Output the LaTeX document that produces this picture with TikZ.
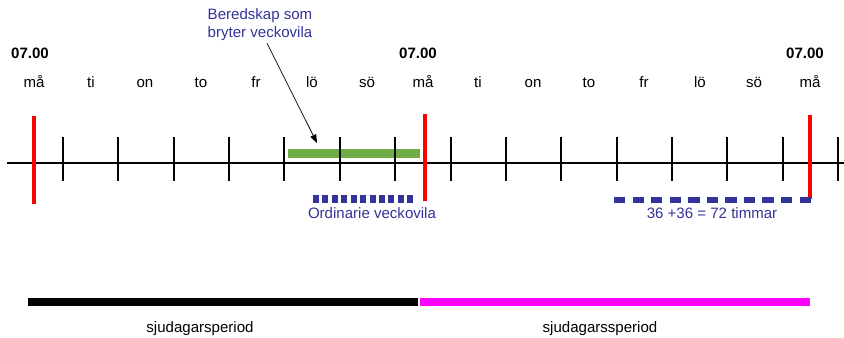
\documentclass[tikz,border=0pt]{standalone}
\usepackage{fontspec}
\setmainfont{Liberation Sans}
\usetikzlibrary{arrows.meta, positioning}
\definecolor{noteblue}{RGB}{51,51,153}
\definecolor{restgreen}{RGB}{112,173,71}
\definecolor{markred}{RGB}{255,0,0}
\definecolor{periodmagenta}{RGB}{255,0,255}

\begin{document}
\begin{tikzpicture}[x=0.025cm, y=-0.025cm, >=Triangle,
    day/.style={anchor=base, inner sep=0pt, font=\fontsize{10.7}{12.2}\selectfont},
    clock/.style={anchor=base, inner sep=0pt, font=\fontsize{10.7}{12.2}\selectfont\bfseries},
    note/.style={anchor=base, inner sep=0pt, align=center, text=noteblue, font=\fontsize{10.7}{12.2}\selectfont},
    daytick/.style={line width=0.9pt},
    boldtick/.style={line width=1.6pt},
    weekmark/.style={markred, line width=2.2pt},
    restbar/.style={noteblue, line width=5pt, dash pattern=on 4.3pt off 2.4pt},
    longbar/.style={noteblue, line width=4.3pt, dash pattern=on 8pt off 5.2pt},
    periodbar/.style={line width=5pt}]
    \useasboundingbox (0,0) rectangle (844,337);

    % Clock times and days
    \node[clock] (clock1) at (30,58) {07.00};
    \node[clock] (clock2) at (418,58) {07.00};
    \node[clock] (clock3) at (805,58) {07.00};
    \foreach \x/\d [count=\i] in {34/må, 91/ti, 145/on, 201/to, 256/fr, 312/lö, 367/sö, 423/må,
        478/ti, 533/on, 589/to, 644/fr, 700/lö, 754/sö, 810/må}
        \node[day] (day\i) at (\x,87) {\d};

    % Standby bar
    \draw[restgreen, line width=6.4pt] (288,153) -- (420,153);

    % Time axis
    \draw[line width=1pt] (7,163) -- (844,163);
    \foreach \x in {63,118,174,340,395,451,506,561,617,672,727}
        \draw[daytick] (\x,137) -- (\x,181);
    \foreach \x in {229,284,783,838}
        \draw[boldtick] (\x,137) -- (\x,181);

    % Week limits
    \draw[weekmark] (34,116) -- (34,204);
    \draw[weekmark] (425,114) -- (425,201);
    \draw[weekmark] (810,115) -- (810,199);

    % Rest periods
    \draw[restbar] (313,199) -- (414,199);
    \draw[longbar] (614,200) -- (813,200);
    \node[note] (ordinary) at (372,218) {Ordinarie veckovila};
    \node[note] (hours) at (712,218) {36 +36 = 72 timmar};

    % Note with arrow
    \node[note] (standbynote) at (260,37) {Beredskap som\\bryter veckovila};
    \coordinate (standby) at (317,143);
    \draw[{Triangle[length=6pt, width=4.5pt]}-, line width=0.5pt] (standby) -- ([xshift=5pt, yshift=-2pt]standbynote.south);

    % Seven-day periods
    \draw[periodbar, black] (28,302) -- (418,302);
    \draw[periodbar, periodmagenta] (420,302) -- (810,302);
    \node[day] (period1) at (200,332) {sjudagarsperiod};
    \node[day] (period2) at (600,332) {sjudagarssperiod};
\end{tikzpicture}
\end{document}
